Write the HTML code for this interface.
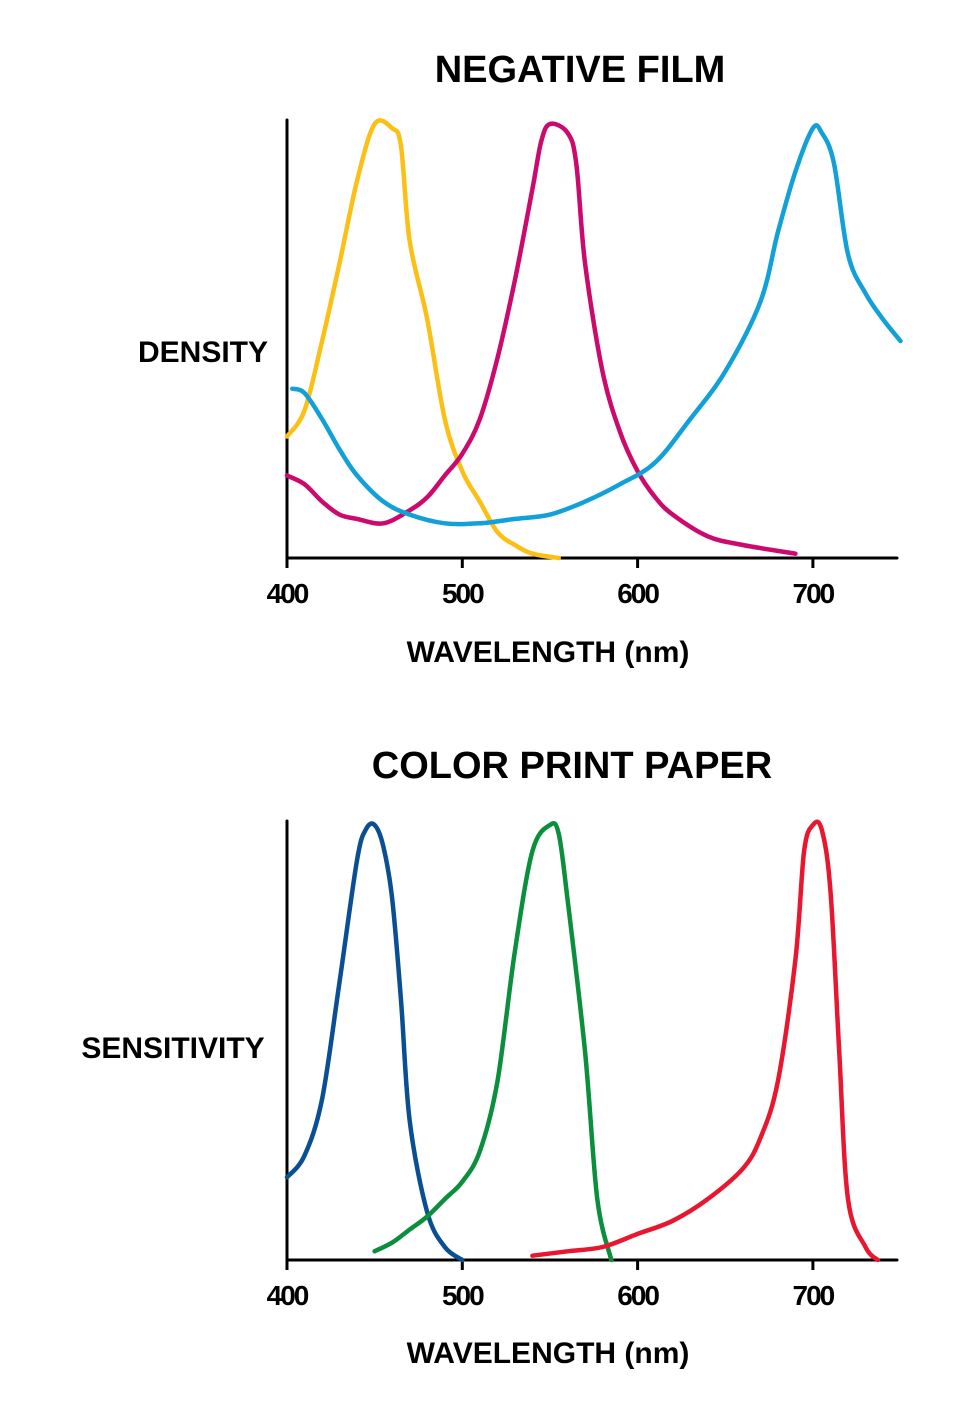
<!DOCTYPE html>
<html><head><meta charset="utf-8"><style>
html,body{margin:0;padding:0;background:#fff;}
svg{display:block;}
text{font-family:"Liberation Sans",sans-serif;font-weight:bold;fill:#000;}
</style></head><body>
<svg id="svg" width="973" height="1418" viewBox="0 0 973 1418">
<g>
<text x="580" y="82" font-size="38" text-anchor="middle">NEGATIVE FILM</text>
<text x="203" y="362" font-size="30" text-anchor="middle">DENSITY</text>
<text x="548" y="662" font-size="30" text-anchor="middle">WAVELENGTH (nm)</text>
<g id="top"></g>
</g>
<g>
<text x="572" y="778" font-size="38" text-anchor="middle">COLOR PRINT PAPER</text>
<text x="173" y="1058" font-size="30" text-anchor="middle">SENSITIVITY</text>
<text x="548" y="1363" font-size="30" text-anchor="middle">WAVELENGTH (nm)</text>
<g id="bot"></g>
</g>
</svg>
<script>
const ticks = [400, 500, 600, 700];
const yellowNm = [400,410,420,430,440,450,460,465,470,480,490,500,510,520,530,540,555];
const yellowVal = [0.28,0.34,0.5,0.68,0.87,1.0,0.99,0.95,0.73,0.55,0.32,0.2,0.13,0.06,0.03,0.01,0];
const magentaNm = [400,410,420,430,440,455,470,480,490,500,510,520,530,540,545,550,560,565,570,580,590,600,610,620,640,660,690];
const magentaVal = [0.19,0.17,0.13,0.1,0.09,0.08,0.11,0.14,0.19,0.24,0.32,0.46,0.64,0.85,0.96,1.0,0.98,0.91,0.68,0.43,0.29,0.2,0.14,0.1,0.05,0.03,0.01];
const cyanNm = [403,410,420,430,440,455,470,490,510,530,550,570,590,610,630,650,670,680,690,700,705,712,720,730,740,750];
const cyanVal = [0.39,0.38,0.32,0.25,0.19,0.13,0.1,0.08,0.08,0.09,0.1,0.13,0.17,0.22,0.32,0.43,0.59,0.75,0.89,0.99,0.98,0.91,0.7,0.61,0.55,0.5];
const blueNm = [400,410,420,430,440,445,450,455,460,465,470,480,490,500];
const blueVal = [0.19,0.24,0.37,0.64,0.92,0.99,1.0,0.95,0.83,0.6,0.32,0.11,0.03,0];
const greenNm = [450,460,470,480,490,500,510,520,530,540,550,555,560,570,577,585];
const greenVal = [0.02,0.04,0.07,0.1,0.14,0.18,0.25,0.41,0.71,0.94,1.0,0.98,0.83,0.48,0.14,0];
const redNm = [540,560,580,600,620,640,660,670,680,690,695,700,705,710,715,720,730,737];
const redVal = [0.01,0.02,0.03,0.06,0.09,0.14,0.21,0.28,0.41,0.69,0.94,1.0,0.99,0.85,0.48,0.14,0.03,0];

const NS = "http://www.w3.org/2000/svg";
function xs(nm){ return 287 + (nm-400)*1.753; }
function mk(tag, attrs, parent){
  const e = document.createElementNS(NS, tag);
  for (const k in attrs) e.setAttribute(k, attrs[k]);
  parent.appendChild(e); return e;
}
function smooth(pts){
  let d = 'M'+pts[0][0].toFixed(1)+' '+pts[0][1].toFixed(1);
  for (let i=0;i<pts.length-1;i++){
    const p0 = pts[i-1]||pts[i], p1 = pts[i], p2 = pts[i+1], p3 = pts[i+2]||p2;
    const c1x = p1[0]+(p2[0]-p0[0])/6, c1y = p1[1]+(p2[1]-p0[1])/6;
    const c2x = p2[0]-(p3[0]-p1[0])/6, c2y = p2[1]-(p3[1]-p1[1])/6;
    d += ' C'+c1x.toFixed(1)+' '+c1y.toFixed(1)+' '+c2x.toFixed(1)+' '+c2y.toFixed(1)+' '+p2[0].toFixed(1)+' '+p2[1].toFixed(1);
  }
  return d;
}
function drawChart(g, base, top, prefix, series){
  const ys = v => base - v*(base-top-2);
  const ya = mk('line',{x1:287,y1:top-2,x2:287,y2:base,stroke:'#000','stroke-width':3,'stroke-linecap':'round'},g);
  
  
  const xa = mk('line',{x1:287,y1:base,x2:897,y2:base,stroke:'#000','stroke-width':3,'stroke-linecap':'round'},g);
  
  
  ticks.forEach(t=>{
    const tm = mk('line',{x1:xs(t),y1:base,x2:xs(t),y2:base+10,stroke:'#000','stroke-width':3},g);
    
    
    const tl = mk('text',{x:xs(t),y:base+45,'font-size':28,'text-anchor':'middle','letter-spacing':'-2'},g);
    tl.textContent = t;
    
    
  });
  series.forEach(s=>{
    const pts = s.nm.map((n,i)=>[xs(n), ys(s.val[i])]);
    const p = mk('path',{d:smooth(pts),fill:'none',stroke:s.color,'stroke-width':4.5,'stroke-linejoin':'round','stroke-linecap':'round'},g);
    
    
  });
}
drawChart(document.getElementById('top'), 558, 122, 'top', [
  {nm:yellowNm,val:yellowVal,color:'#fbbf16',name:'yellow-density-curve'},
  {nm:magentaNm,val:magentaVal,color:'#cc0a6e',name:'magenta-density-curve'},
  {nm:cyanNm,val:cyanVal,color:'#12a0d8',name:'cyan-density-curve'}
]);
drawChart(document.getElementById('bot'), 1260, 823, 'bottom', [
  {nm:blueNm,val:blueVal,color:'#0a4f93',name:'blue-sensitivity-curve'},
  {nm:greenNm,val:greenVal,color:'#0a8f3c',name:'green-sensitivity-curve'},
  {nm:redNm,val:redVal,color:'#e8172f',name:'red-sensitivity-curve'}
]);
</script>
</body></html>
